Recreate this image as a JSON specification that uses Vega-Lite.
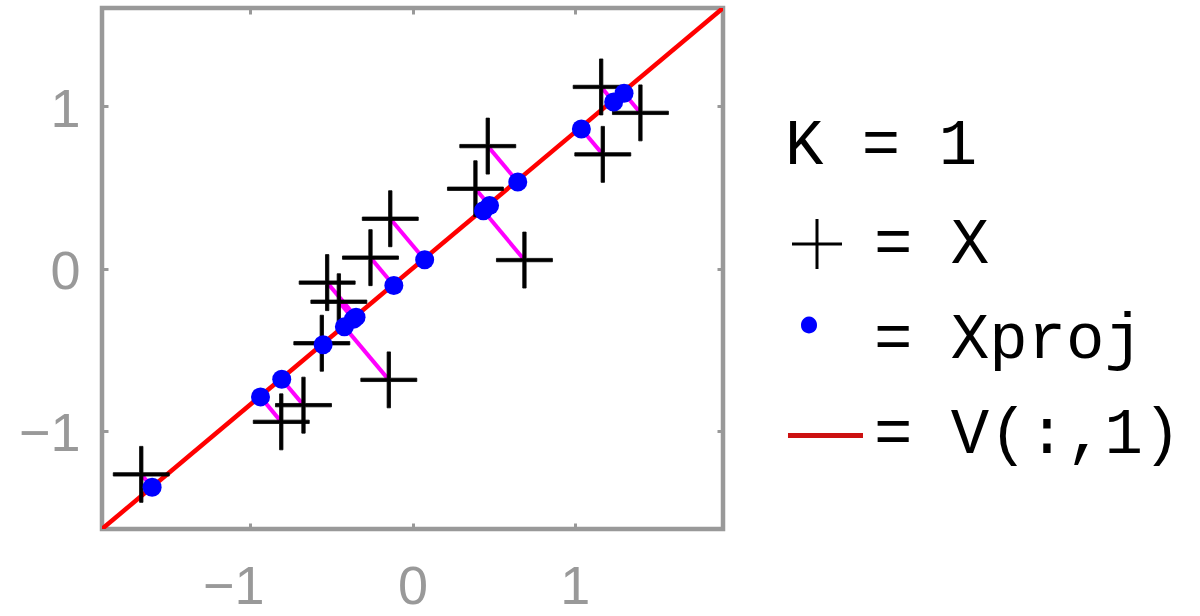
{
  "$schema": "https://vega.github.io/schema/vega-lite/v6.json",
  "width": 621,
  "height": 521,
  "autosize": "none",
  "padding": {"left": 102, "top": 8, "right": 477, "bottom": 87},
  "background": "white",
  "config": {
    "view": {"stroke": "#999999", "strokeWidth": 4.5},
    "axis": {
      "title": null, "domain": false, "grid": false,
      "tickSize": -6, "tickWidth": 3, "tickColor": "#999999",
      "labelColor": "#999999", "labelFont": "Liberation Sans", "labelFontSize": 54,
      "labelFlush": false, "labelOverlap": false
    }
  },
  "datasets": {
    "pts": [
      {"x": -1.672, "y": -1.270, "px": -1.605, "py": -1.350},
      {"x": -0.809, "y": -0.946, "px": -0.937, "py": -0.792},
      {"x": -0.672, "y": -0.843, "px": -0.806, "py": -0.683},
      {"x": -0.559, "y": -0.461, "px": -0.551, "py": -0.470},
      {"x": -0.526, "y": -0.087, "px": -0.348, "py": -0.300},
      {"x": -0.454, "y": -0.205, "px": -0.364, "py": -0.313},
      {"x": -0.146, "y": -0.687, "px": -0.420, "py": -0.360},
      {"x": -0.259, "y": 0.067, "px": -0.115, "py": -0.105},
      {"x": -0.137, "y": 0.307, "px": 0.075, "py": 0.054},
      {"x": 0.464, "y": 0.755, "px": 0.649, "py": 0.534},
      {"x": 0.388, "y": 0.492, "px": 0.475, "py": 0.388},
      {"x": 0.690, "y": 0.052, "px": 0.437, "py": 0.356},
      {"x": 1.163, "y": 1.120, "px": 1.240, "py": 1.027},
      {"x": 1.405, "y": 0.960, "px": 1.304, "py": 1.081},
      {"x": 1.173, "y": 0.704, "px": 1.041, "py": 0.861}
    ],
    "vline": [
      {"lx": -1.914, "ly": -1.607},
      {"lx": 1.914, "ly": 1.607}
    ]
  },
  "layer": [
    {
      "data": {"name": "vline"},
      "mark": {"type": "line", "color": "#ff0000", "strokeWidth": 4.5, "clip": true},
      "encoding": {
        "x": {"field": "lx", "type": "quantitative",
              "scale": {"domain": [-1.914, 1.914], "nice": false, "zero": false},
              "axis": {"orient": "bottom", "values": [-1, 0, 1], "labelPadding": 37,
                       "labelOffset": {"condition": {"test": "datum.value < 0", "value": -17}, "value": 0}}},
        "y": {"field": "ly", "type": "quantitative",
              "scale": {"domain": [-1.607, 1.607], "nice": false, "zero": false},
              "axis": {"orient": "left", "values": [-1, 0, 1], "labelPadding": 28, "labelOffset": 4}}
      }
    },
    {
      "data": {"name": "pts"},
      "mark": {"type": "rule", "color": "#ff00ff", "strokeWidth": 4},
      "encoding": {
        "x": {"field": "x", "type": "quantitative",
              "axis": {"orient": "top", "values": [-1, 0, 1], "labels": false}},
        "y": {"field": "y", "type": "quantitative",
              "axis": {"orient": "right", "values": [-1, 0, 1], "labels": false}},
        "x2": {"field": "px"},
        "y2": {"field": "py"}
      }
    },
    {
      "data": {"name": "pts"},
      "mark": {"type": "point", "filled": true, "opacity": 1, "size": 4516, "stroke": "#000000", "strokeWidth": 0.8},
      "encoding": {
        "x": {"field": "x", "type": "quantitative", "axis": null},
        "y": {"field": "y", "type": "quantitative", "axis": null},
        "shape": {
          "datum": "= X",
          "scale": {
            "domain": ["= X", "= Xproj", "= V(:,1)"],
            "range": [
              "M-0.833,-0.05H-0.05V-0.833H0.05V-0.05H0.833V0.05H0.05V0.833H-0.05V0.05H-0.833Z",
              "M-0.533,-0.467A0.267,0.267 0 1,0 0,-0.467A0.267,0.267 0 1,0 -0.533,-0.467Z",
              "M-0.967,-0.033H1.533V0.133H-0.967Z"
            ]
          },
          "legend": {
            "orient": "none", "legendX": 683, "legendY": 105,
            "title": "K = 1", "titleFont": "Liberation Mono", "titleFontSize": 64,
            "titleFontWeight": "normal", "titleColor": "#000000", "titlePadding": 35, "titleLimit": 0,
            "labelFont": "Liberation Mono", "labelFontSize": 64, "labelColor": "#000000",
            "labelOffset": 25, "labelLimit": 0, "symbolSize": 3600, "symbolStrokeWidth": 0,
            "rowPadding": 31, "padding": 0, "symbolOpacity": 1
          }
        },
        "color": {
          "datum": "= X",
          "scale": {
            "domain": ["= X", "= Xproj", "= V(:,1)"],
            "range": ["#000000", "#0000ff", "#cc1111"]
          },
          "legend": {
            "orient": "none", "legendX": 683, "legendY": 105,
            "title": "K = 1", "titleFont": "Liberation Mono", "titleFontSize": 64,
            "titleFontWeight": "normal", "titleColor": "#000000", "titlePadding": 35, "titleLimit": 0,
            "labelFont": "Liberation Mono", "labelFontSize": 64, "labelColor": "#000000",
            "labelOffset": 25, "labelLimit": 0, "symbolSize": 3600, "symbolStrokeWidth": 0,
            "rowPadding": 31, "padding": 0, "symbolOpacity": 1
          }
        }
      }
    },
    {
      "data": {"name": "pts"},
      "mark": {"type": "circle", "color": "#0000ff", "opacity": 1, "size": 361},
      "encoding": {
        "x": {"field": "px", "type": "quantitative", "axis": null},
        "y": {"field": "py", "type": "quantitative", "axis": null}
      }
    }
  ]
}
